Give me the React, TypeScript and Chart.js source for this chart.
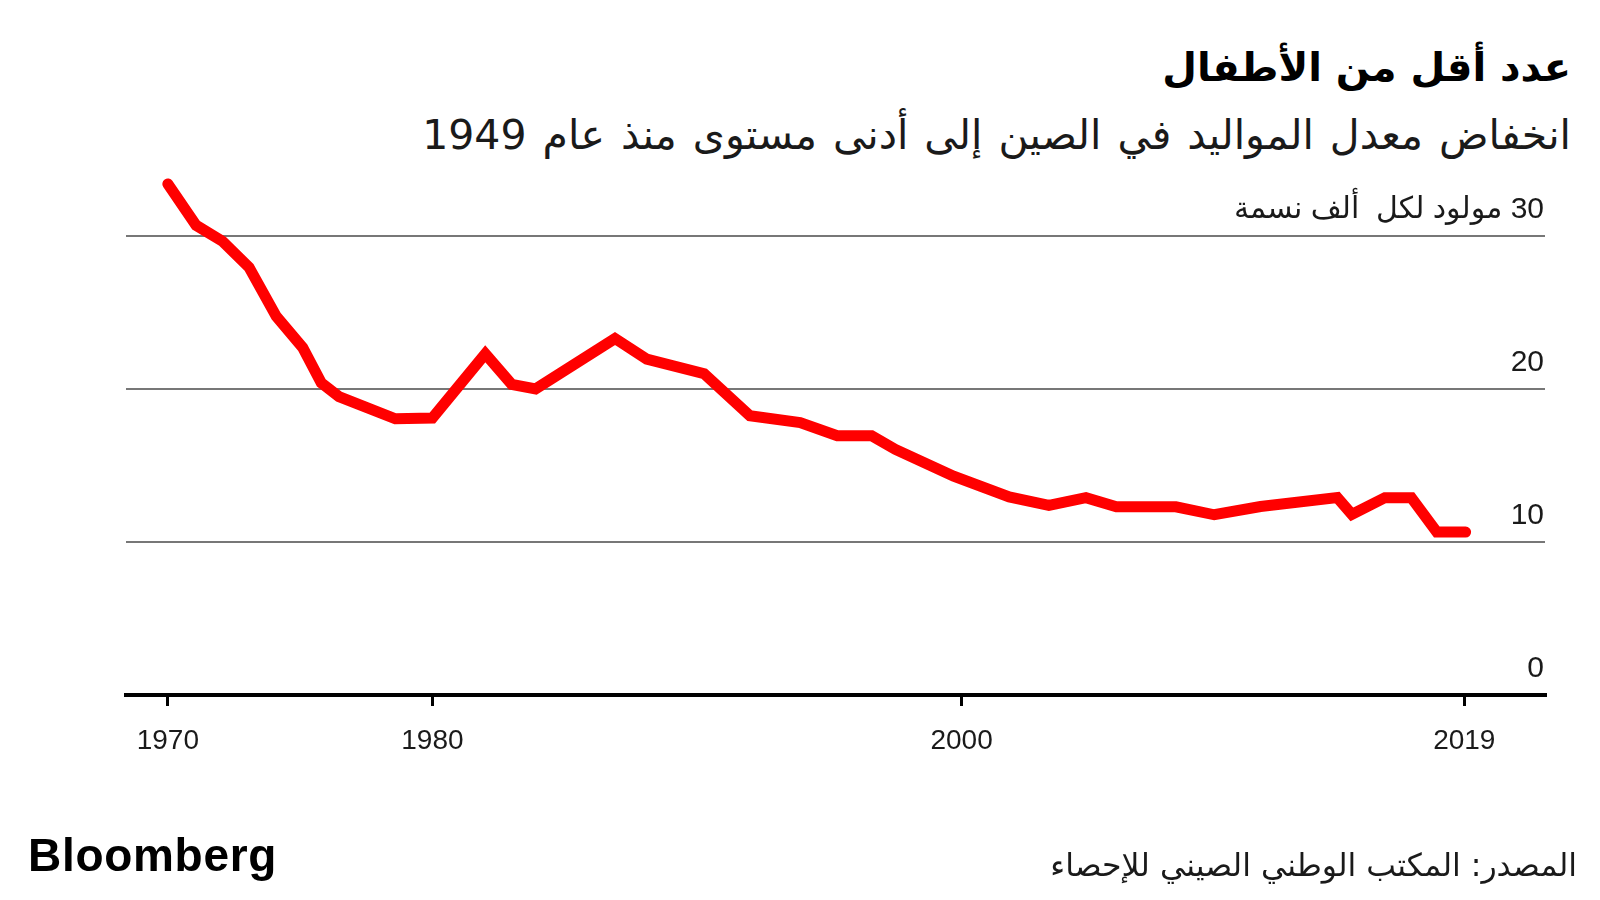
import React, { useEffect, useRef } from "react";
import { Chart, registerables } from "chart.js";

Chart.register(...registerables);

// ---- Data ----
const years = [
  1970.0, 1971.07, 1972.07, 1973.07, 1974.1, 1975.1, 1975.8, 1976.47, 1978.6, 1980.0,
  1982.0, 1983.0, 1983.9, 1986.9, 1988.1, 1990.27, 1992.0, 1993.9, 1995.3, 1996.6,
  1997.5, 1999.7, 2001.8, 2003.3, 2004.7, 2005.85, 2008.1, 2009.55, 2011.3, 2014.2,
  2014.75, 2016.0, 2017.0, 2017.96, 2019.05,
];
const birthRate = [
  33.4, 30.7, 29.65, 27.95, 24.75, 22.7, 20.4, 19.5, 18.05, 18.1,
  22.3, 20.3, 20.0, 23.3, 21.95, 21.0, 18.25, 17.8, 16.95, 16.95,
  16.05, 14.3, 12.95, 12.4, 12.9, 12.3, 12.3, 11.78, 12.32, 12.9,
  11.8, 12.9, 12.9, 10.65, 10.65,
];
const xTickYears = [1970, 1980, 2000, 2019];
const yTickValues = [0, 10, 20, 30];
const yTickLabels = ["0", "10", "20", "30 مولود لكل  ألف نسمة"];

const titleText = "عدد أقل من الأطفال";
const subtitleText = "انخفاض معدل المواليد في الصين إلى أدنى مستوى منذ عام 1949";
const sourceText = "المصدر: المكتب الوطني الصيني للإحصاء";
const brandText = "Bloomberg";

const TEXT = "#1a1a1a";

export default function App() {
  const canvasRef = useRef<HTMLCanvasElement | null>(null);

  useEffect(() => {
    const canvas = canvasRef.current;
    if (!canvas) return;
    const chart = new Chart(canvas, {
      type: "line",
      data: {
        datasets: [
          {
            data: years.map((x, i) => ({ x, y: birthRate[i] })),
            borderColor: "#ff0000",
            borderWidth: 11,
            pointRadius: 0,
            tension: 0,
            borderCapStyle: "round",
            borderJoinStyle: "miter",
            fill: false,
          },
        ],
      },
      options: {
        responsive: false,
        animation: false,
        events: [],
        layout: { padding: { left: 126, right: 55, top: 159.5, bottom: 145 } },
        plugins: { legend: { display: false }, tooltip: { enabled: false } },
        scales: {
          x: {
            type: "linear",
            min: 1968.42,
            max: 2022.05,
            afterBuildTicks: (scale: any) => {
              scale.ticks = xTickYears.map((value) => ({ value }));
            },
            afterFit: (scale: any) => {
              scale.height = 60;
            },
            grid: {
              display: true,
              drawOnChartArea: false,
              drawTicks: true,
              tickLength: 11,
              color: "#000",
              lineWidth: 3,
            },
            border: { display: true, color: "#000", width: 4 },
            ticks: {
              autoSkip: false,
              maxRotation: 0,
              padding: 18,
              color: TEXT,
              font: { family: "'Liberation Sans', Arial, sans-serif", size: 28 },
              callback: (v: any) => String(v),
            },
          },
          y: {
            type: "linear",
            position: "right",
            min: 0,
            max: 35,
            afterBuildTicks: (scale: any) => {
              scale.ticks = yTickValues.map((value) => ({ value }));
            },
            afterFit: (scale: any) => {
              scale.width = 0;
            },
            grid: {
              drawTicks: false,
              lineWidth: 2,
              color: (ctx: any) => (ctx.tick && ctx.tick.value === 0 ? "rgba(0,0,0,0)" : "#777777"),
            },
            border: { display: false },
            ticks: {
              mirror: true,
              padding: -1,
              labelOffset: -26,
              autoSkip: false,
              color: TEXT,
              font: { family: "'Liberation Sans', 'DejaVu Sans', Arial, sans-serif", size: 30 },
              callback: (v: any) => {
                const i = yTickValues.indexOf(Number(v));
                return "\u202B" + (i >= 0 ? yTickLabels[i] : String(v)) + "\u202C";
              },
            },
          },
        },
      },
    });
    return () => chart.destroy();
  }, []);

  const arabic = "'DejaVu Sans', sans-serif";

  return (
    <div
      style={{
        position: "fixed",
        left: 0,
        top: 0,
        width: 1600,
        height: 900,
        background: "#fff",
        overflow: "hidden",
      }}
    >
      <div
        dir="rtl"
        style={{
          position: "absolute",
          right: 29,
          top: 47,
          fontFamily: arabic,
          fontWeight: 700,
          fontSize: 40,
          lineHeight: "40px",
          color: "#000",
          whiteSpace: "nowrap",
        }}
      >
        {titleText}
      </div>
      <div
        dir="rtl"
        style={{
          position: "absolute",
          right: 29,
          top: 115,
          fontFamily: arabic,
          fontSize: 41,
          lineHeight: "41px",
          wordSpacing: "3px",
          color: TEXT,
          whiteSpace: "nowrap",
        }}
      >
        {subtitleText}
      </div>
      <canvas
        ref={canvasRef}
        width={1600}
        height={900}
        style={{ position: "absolute", left: 0, top: 0, width: 1600, height: 900 }}
      />
      <div
        style={{
          position: "absolute",
          left: 28,
          top: 832,
          fontFamily: "'Liberation Sans', Arial, sans-serif",
          fontWeight: 700,
          fontSize: 46,
          lineHeight: "46px",
          letterSpacing: "0.7px",
          color: "#000",
          whiteSpace: "nowrap",
        }}
      >
        {brandText}
      </div>
      <div
        dir="rtl"
        style={{
          position: "absolute",
          right: 23,
          top: 849,
          fontFamily: arabic,
          fontSize: 31.5,
          lineHeight: "32px",
          color: TEXT,
          whiteSpace: "nowrap",
        }}
      >
        {sourceText}
      </div>
    </div>
  );
}
